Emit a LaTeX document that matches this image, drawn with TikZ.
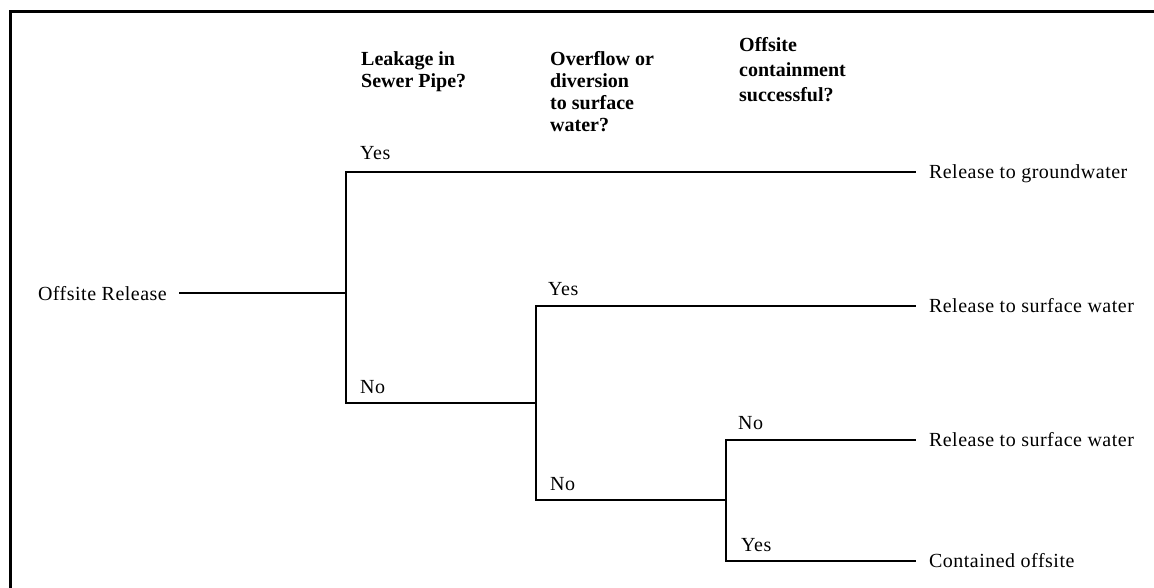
\documentclass[tikz,border=0pt]{standalone}
\usepackage{fontspec}
\setmainfont{Liberation Serif}
\newfontfamily\lblfont{Liberation Serif}[LetterSpace=2.5]
\begin{document}
\begin{tikzpicture}[x=1pt,y=-1pt,
  lbl/.style={inner sep=0pt, font=\lblfont\fontsize{20}{22}\selectfont, anchor=base west},
  endlbl/.style={lbl, outer xsep=14pt},
  hdr/.style={inner sep=0pt, align=left, anchor=north west},
  branch/.style={line width=1.2pt, line cap=rect},
  frame/.style={line width=3pt}]
\useasboundingbox (0,0) rectangle (1154,588);
\draw[frame] (10.5,588) -- (10.5,12) -- (1154,12);

% headers
\node[hdr, font=\bfseries\fontsize{20}{22}\selectfont] (h1) at (361,51) {Leakage in\\Sewer Pipe?};
\node[hdr, font=\bfseries\fontsize{20}{22}\selectfont] (h2) at (550,51) {Overflow or\\diversion\\to surface\\water?};
\node[hdr, font=\bfseries\fontsize{20}{25}\selectfont] (h3) at (739,37) {Offsite\\containment\\successful?};

% root and end labels
\node[lbl, outer xsep=0pt] (root) at (38,300) {Offsite Release};
\node[endlbl] (e1) at (915,178.5) {Release to groundwater};
\node[endlbl] (e2) at (915,312.5) {Release to surface water};
\node[endlbl] (e3) at (915,446.5) {Release to surface water};
\node[endlbl] (e4) at (915,567.5) {Contained offsite};

% junctions
\coordinate (j1m) at (346,293);
\coordinate (j1t) at (346,172);
\coordinate (j1b) at (346,403);
\coordinate (j2m) at (536,403);
\coordinate (j2t) at (536,306);
\coordinate (j2b) at (536,500);
\coordinate (j3m) at (726,500);
\coordinate (j3t) at (726,440);
\coordinate (j3b) at (726,561);
\coordinate (rootend) at (180,293);

% branch labels
\node[lbl] (y1) at (360,160) {Yes};
\node[lbl] (n1) at (360,393) {No};
\node[lbl] (y2) at (548,295) {Yes};
\node[lbl] (n2) at (550,490) {No};
\node[lbl] (n3) at (738,429) {No};
\node[lbl] (y3) at (741,551) {Yes};

% connectors
\draw[branch] (rootend) -- (j1m);
\draw[branch] (j1t) -- (j1b);
\draw[branch] (j1t) -- (j1t -| e1.west);
\draw[branch] (j1b) -- (j2m);
\draw[branch] (j2t) -- (j2b);
\draw[branch] (j2t) -- (j2t -| e2.west);
\draw[branch] (j2b) -- (j3m);
\draw[branch] (j3t) -- (j3b);
\draw[branch] (j3t) -- (j3t -| e3.west);
\draw[branch] (j3b) -- (j3b -| e4.west);
\end{tikzpicture}
\end{document}
